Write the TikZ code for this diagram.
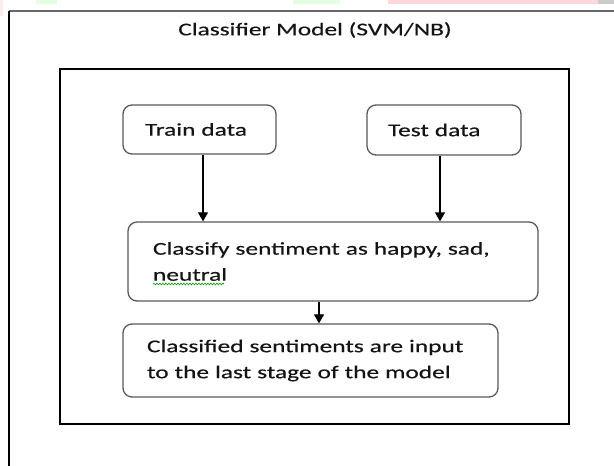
\documentclass[tikz,border=0pt]{standalone}
\usepackage{fontspec}
\setmainfont{Carlito}[FakeStretch=1.41,FakeBold=0.35]
\usetikzlibrary{arrows.meta,decorations.pathmorphing}
\begin{document}
\begin{tikzpicture}[x=1pt,y=-1pt,
  txt/.style={font=\fontsize{18}{26}\selectfont, text=black!92},
  box/.style={txt, draw=black!65, line width=1.3pt, rounded corners=9pt, fill=white, align=left, inner ysep=0pt},
  arr/.style={draw=black, line width=1.2pt, -{Triangle[length=9pt,width=10pt]}},
  frame/.style={draw=black, line width=1.3pt, inner sep=0pt},
  wavy/.style={draw=green!60!black, line width=0.6pt, decorate, decoration={snake, amplitude=0.9pt, segment length=3pt}}]
\useasboundingbox (0,0) rectangle (614,466);
% faint strips at the top edge
\fill[red!8] (0,0) rectangle (3,16);
\fill[green!10] (36,0) rectangle (57,4);
\fill[green!10] (293,0) rectangle (340,4);
\fill[red!15] (388,0) rectangle (598,4);
\fill[black!20] (598,0) rectangle (614,4);
% outer frame (cut by the image edges)
\draw[line width=1.6pt, black!60] (9,11) -- (614,11);
\draw[line width=1.4pt, black] (9,11) -- (9,466);
\node[txt] (title) at (315,30) {Classifier Model (SVM/NB)};
% inner frame
\node[frame, minimum width=509pt, minimum height=355pt] (inner) at (314.5,246.5) {};
% boxes
\node[box, minimum width=153pt, minimum height=49pt, inner xsep=22pt, text width=109pt] (train) at (199.5,129.5) {Train data};
\node[box, minimum width=154pt, minimum height=50pt, inner xsep=21pt, text width=112pt] (test) at (444,130) {Test data};
\node[box, minimum width=410pt, minimum height=79pt, inner xsep=25pt, text width=360pt] (cls) at (333,261.5) {Classify sentiment as happy, sad,\\ neutral};
\node[box, minimum width=375pt, minimum height=73pt, inner xsep=24pt, text width=327pt] (final) at (310.5,360.5) {Classified sentiments are input\\ to the last stage of the model};
% spell-check underline
\coordinate (wa) at (153,284);
\coordinate (wb) at (224,284);
\draw[wavy] (wa) -- (wb);
% connectors
\draw[arr] ([xshift=3.5pt]train.south) -- ([xshift=3.5pt]train.south |- cls.north);
\draw[arr] ([xshift=-4pt]test.south) -- ([xshift=-4pt]test.south |- cls.north);
\draw[arr] ([xshift=-14pt]cls.south) -- ([xshift=-14pt]cls.south |- final.north);
\end{tikzpicture}
\end{document}
